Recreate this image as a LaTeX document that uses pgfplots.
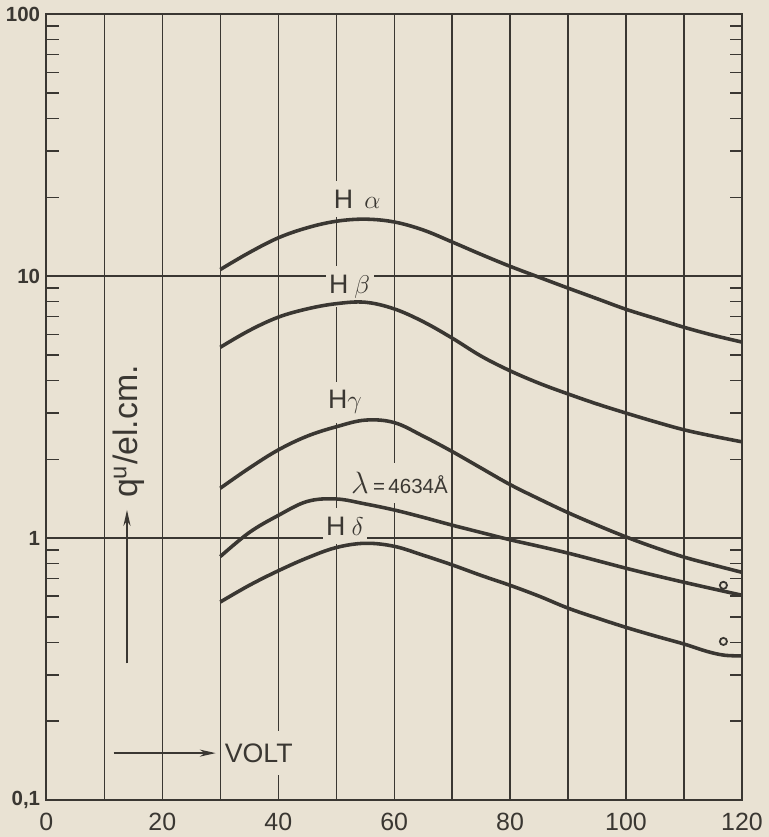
\documentclass[border=0pt]{standalone}
\usepackage{pgfplots}
\pgfplotsset{compat=1.18}
\usepackage{fontspec}
\setmainfont{Liberation Sans}
\usetikzlibrary{backgrounds,arrows.meta}
\definecolor{paper}{RGB}{233,226,211}
\definecolor{ink}{RGB}{58,55,50}

\begin{document}
\begin{tikzpicture}[show background rectangle, inner frame sep=0pt,
  background rectangle/.style={fill=paper, draw=none},
  lbl/.style={fill=paper, inner xsep=2pt, inner ysep=5pt, text=ink, font=\fontsize{15}{15}\selectfont},
  curve/.style={ink, line width=2pt, smooth, tension=0.6, mark=none}]
\begin{axis}[
  scale only axis, width=13.72cm, height=15.5cm,
  ymode=log, xmin=0, xmax=120, ymin=0.1, ymax=100,
  xtick={0,20,...,120}, xticklabels={0,20,40,60,80,100,120},
  minor xtick={10,30,...,110},
  ytick={0.1,1,10,100}, yticklabels={{0,1},1,10,100},
  minor ytick={0.2,0.3,0.4,0.5,0.6,0.7,0.8,0.9,2,3,4,5,6,7,8,9,20,30,40,50,60,70,80,90},
  xmajorgrids, xminorgrids, ymajorgrids,
  major grid style={ink, line width=0.75pt},
  minor grid style={ink, line width=0.75pt},
  axis line style={ink, line width=1.1pt},
  tick align=inside, major tick length=0pt, minor tick length=0.24cm,
  every tick/.style={ink, line width=0.8pt},
  xticklabel style={font=\fontsize{14}{14}\selectfont, text=ink, yshift=-4pt},
  yticklabel style={font=\bfseries\fontsize{11.5}{12}\selectfont, text=ink},
]
% labels first, their fill breaks the grid lines
\node[lbl] at (axis cs:53.6,19.7) {H\hspace{0.22cm}$\alpha$};
\node[lbl] at (axis cs:52.3,9.1) {H\hspace{0.12cm}$\beta$};
\node[lbl] at (axis cs:51.5,3.3) {H$\gamma$};
\node[lbl] at (axis cs:60.9,1.62) {{\fontsize{17}{17}\selectfont$\lambda$}\,{\fontsize{11.5}{11.5}\selectfont =\,4634Å}};
\node[lbl] at (axis cs:51.5,1.11) {H\hspace{0.12cm}$\delta$};
\node[lbl, anchor=west, inner xsep=1pt, inner ysep=7pt] at (axis cs:30.4,0.151) {VOLT};
\node[rotate=90, text=ink, font=\fontsize{19}{19}\selectfont] at (axis cs:14.2,2.55) {q\textsuperscript{u}/el.cm.};
\draw[ink, line width=0.8pt, -{Stealth[length=9pt,width=4pt]}] (axis cs:13.9,0.332) -- (axis cs:13.9,1.28);
\draw[ink, line width=0.8pt, -{Stealth[length=9pt,width=4pt]}] (axis cs:11.6,0.151) -- (axis cs:29.2,0.151);

% H alpha
\addplot[curve] coordinates {(30,10.6) (35,12.3) (40,14.0) (45,15.3) (50,16.2) (55,16.5) (60,16.1) (65,15.0) (70,13.5) (75,12.1) (80,10.9) (85,9.9) (90,9.0) (95,8.2) (100,7.47) (105,6.9) (110,6.38) (115,5.95) (120,5.6)};
% H beta
\addplot[curve] coordinates {(30,5.35) (35,6.2) (40,6.97) (45,7.5) (50,7.85) (55,7.95) (60,7.5) (65,6.7) (70,5.8) (75,4.95) (80,4.35) (85,3.9) (90,3.55) (95,3.25) (100,3.0) (105,2.78) (110,2.59) (115,2.45) (120,2.33)};
% H gamma
\addplot[curve] coordinates {(30,1.55) (35,1.85) (40,2.17) (45,2.45) (50,2.66) (55,2.82) (60,2.76) (65,2.45) (70,2.14) (75,1.85) (80,1.60) (85,1.41) (90,1.25) (95,1.12) (100,1.01) (105,0.92) (110,0.846) (115,0.79) (120,0.74)};
% lambda = 4634 A
\addplot[curve] coordinates {(30,0.85) (35,1.05) (40,1.22) (45,1.38) (50,1.41) (55,1.35) (60,1.28) (65,1.20) (70,1.12) (75,1.05) (80,0.985) (85,0.93) (90,0.876) (95,0.82) (100,0.767) (105,0.72) (110,0.678) (115,0.64) (120,0.605)};
% H delta
\addplot[curve] coordinates {(30,0.57) (35,0.66) (40,0.75) (45,0.84) (50,0.92) (55,0.955) (60,0.93) (65,0.86) (70,0.79) (75,0.72) (80,0.66) (85,0.60) (90,0.54) (95,0.495) (100,0.456) (105,0.423) (110,0.394) (114,0.369) (117,0.357) (120,0.355)};
% single points
\addplot[only marks, mark=o, mark size=2pt, ink, line width=1pt] coordinates {(116.8,0.66) (116.8,0.403)};
\end{axis}
\path ([yshift=0.28cm]current axis.north);
\end{tikzpicture}
\end{document}
